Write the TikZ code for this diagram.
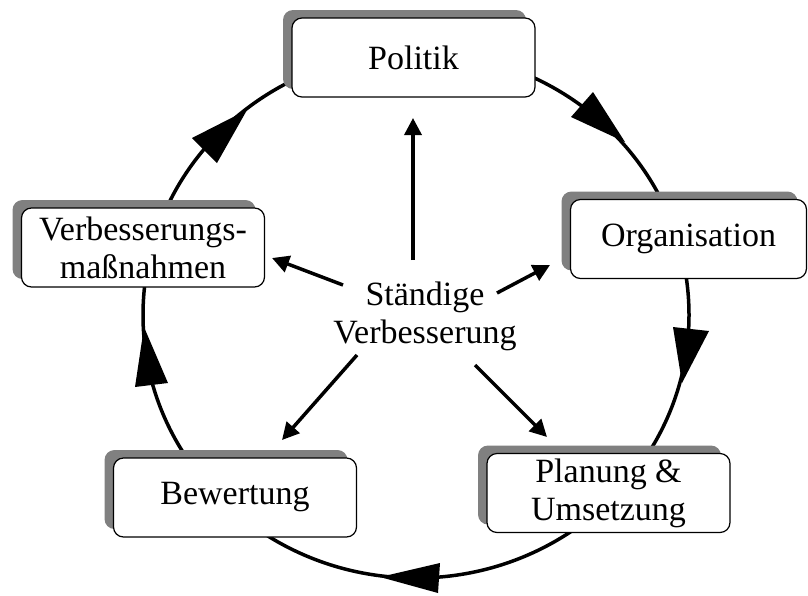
\documentclass[tikz,border=0pt]{standalone}
\usepackage{fontspec}
\setmainfont{Liberation Serif}
\usetikzlibrary{arrows.meta,shadows}
\definecolor{shadowgray}{HTML}{808080}
\begin{document}
\begin{tikzpicture}[x=1pt,y=-1pt,
  box/.style={draw=black, line width=1.2pt, fill=white, rounded corners=10pt,
    minimum width=243pt, minimum height=79pt, inner sep=0pt, align=center,
    font=\fontsize{34}{38}\selectfont,
    general shadow={fill=shadowgray, shadow xshift=-9pt, shadow yshift=8pt}},
  ring/.style={line width=3.5pt, black},
  bighead/.style={fill=black},
  carrow/.style={line width=3.5pt, -{Triangle[length=17pt,width=17pt]}},
  ctext/.style={align=center, font=\fontsize{34}{38}\selectfont, inner sep=0pt}]
\useasboundingbox (0,0) rectangle (808,595);
% cycle ellipse
\draw[ring] (416,315) ellipse [x radius=273, y radius=263];
% boxes
\node[box] (pol) at (413.5,57.5) {Politik};
\node[box, minimum width=236pt] (org) at (688.5,239) {Organisation};
\node[box] (plan) at (608.5,493) {Planung \&\\Umsetzung};
\node[box] (bew) at (235,497.5) {Bewertung};
\node[box] (verb) at (143,247.5) {Verbesserungs-\\maßnahmen};
% big arrow heads on the cycle
\fill[bighead] (593,92) -- (571,117) -- (625,142) -- cycle;
\fill[bighead] (673,327) -- (709,331) -- (682,383) -- cycle;
\fill[bighead] (440,563) -- (438,593) -- (380,577) -- cycle;
\fill[bighead] (135,387) -- (168,383) -- (144,327) -- cycle;
\fill[bighead] (192,138) -- (217,163) -- (247,110) -- cycle;
% centre
\node[ctext] (c) at (425,316) {Ständige\\Verbesserung};
\coordinate (s1) at (413,260); \coordinate (e1) at (413,118);
\coordinate (s2) at (343,285); \coordinate (e2) at (272,258);
\coordinate (s3) at (497,293); \coordinate (e3) at (550,265);
\coordinate (s4) at (357,355); \coordinate (e4) at (282,440);
\coordinate (s5) at (475,365); \coordinate (e5) at (547,437);
\draw[carrow] (s1) -- (e1);
\draw[carrow] (s2) -- (e2);
\draw[carrow] (s3) -- (e3);
\draw[carrow] (s4) -- (e4);
\draw[carrow] (s5) -- (e5);
\end{tikzpicture}
\end{document}
